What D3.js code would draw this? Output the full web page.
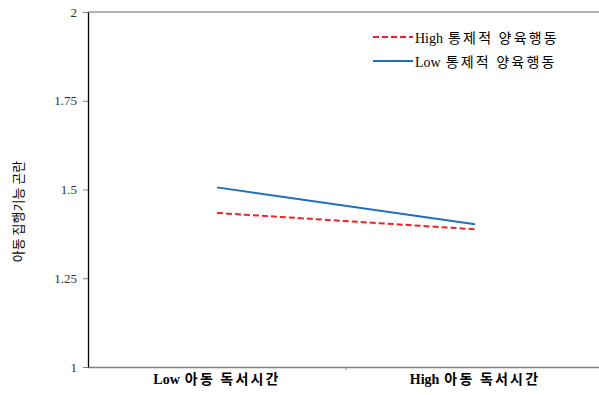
<!DOCTYPE html>
<html>
<head>
<meta charset="utf-8">
<script src="https://cdn.jsdelivr.net/npm/d3@7"></script>
<style>
  body { margin: 0; background: #fff; }
  svg { display: block; }
</style>
</head>
<body>
<svg id="chart" width="599" height="395"></svg>
<script>
// data
var categories = ["Low 아동 독서시간", "High 아동 독서시간"];
var seriesNames = ["High 통제적 양육행동", "Low 통제적 양육행동"];
var highValues = [1.434, 1.388];
var lowValues = [1.506, 1.402];
var yTicks = [1, 1.25, 1.5, 1.75, 2];

const svg = d3.select('#chart');
const margin = {top: 12, left: 88, bottom: 28};
const width = 599, height = 395;

const x = d3.scaleBand()
  .domain(categories)
  .range([margin.left, 604]);

const y = d3.scaleLinear()
  .domain([1, 2])
  .range([height - margin.bottom, margin.top]);

// latin word in serif, korean part a bit wider, like the original
function mixedLabel(sel, bold) {
  sel.each(function(d) {
    const t = d3.select(this);
    const s = String(d);
    const k = s.indexOf(" ");
    t.text(null);
    t.append("tspan")
      .attr("font-family", "Liberation Serif, serif")
      .attr("font-size", "14px")
      .text(s.slice(0, k));
    t.append("tspan")
      .attr("dx", 5)
      .attr("font-family", "Noto Sans CJK KR, sans-serif")
      .attr("font-size", "14px")
      .attr("letter-spacing", "2.2px")
      .text(s.slice(k + 1));
    if (bold) t.attr("font-weight", "bold");
  });
}

// top border line
svg.append("line")
  .attr("x1", margin.left).attr("x2", width)
  .attr("y1", y(2)).attr("y2", y(2))
  .attr("stroke", "#999").attr("stroke-width", 1.5);

// x axis
svg.append("g")
  .attr("transform", `translate(0,${y(1)})`)
  .call(d3.axisBottom(x).tickSize(0).tickSizeOuter(0))
  .call(g => g.select(".domain").attr("stroke", "#808080").attr("stroke-width", 1.5))
  .call(g => g.selectAll(".tick text")
    .attr("dy", "1.35em")
    .attr("fill", "#000")
    .call(mixedLabel, true));

// middle category separator tick
svg.append("line")
  .attr("x1", x(categories[1])).attr("x2", x(categories[1]))
  .attr("y1", y(1)).attr("y2", y(1) + 3)
  .attr("stroke", "#808080");

// y axis
svg.append("g")
  .attr("transform", `translate(${margin.left},0)`)
  .call(d3.axisLeft(y).tickValues(yTicks).tickFormat(d => d).tickSize(5).tickSizeOuter(0))
  .call(g => g.select(".domain").attr("stroke", "#000").attr("stroke-width", 1.3))
  .call(g => g.selectAll(".tick line").attr("stroke", "#808080"))
  .call(g => g.selectAll(".tick text")
    .attr("x", -11)
    .attr("fill", "#333")
    .attr("font-family", "Liberation Serif, serif")
    .attr("font-size", "13px"));

// y title
svg.append("text")
  .attr("transform", `translate(23,${(y(1) + y(2)) / 2 + 22}) rotate(-90)`)
  .attr("text-anchor", "middle")
  .attr("font-family", "Noto Sans CJK KR, sans-serif")
  .attr("font-size", "13px")
  .attr("fill", "#000")
  .text("아동 집행기능 곤란");

const cx = d => x(d) + x.bandwidth() / 2;
const line = d3.line().x(d => cx(d[0])).y(d => y(d[1]));

svg.append("path")
  .datum(categories.map((c, i) => [c, lowValues[i]]))
  .attr("d", line)
  .attr("fill", "none")
  .attr("stroke", "#1f6fbf")
  .attr("stroke-width", 2);

svg.append("path")
  .datum(categories.map((c, i) => [c, highValues[i]]))
  .attr("d", line)
  .attr("fill", "none")
  .attr("stroke", "#ee2222")
  .attr("stroke-width", 2)
  .attr("stroke-dasharray", "6,3");

// legend
const legend = svg.append("g").attr("transform", "translate(373,37)");
const styles = [
  {stroke: "#ee2222", dash: "6,3"},
  {stroke: "#1f6fbf", dash: null}
];
seriesNames.forEach((name, i) => {
  const g = legend.append("g").attr("transform", `translate(0,${i * 24})`);
  g.append("line")
    .attr("x1", 0).attr("x2", 40)
    .attr("stroke", styles[i].stroke)
    .attr("stroke-width", 2)
    .attr("stroke-dasharray", styles[i].dash);
  g.append("text")
    .datum(name)
    .attr("x", 42).attr("dy", "0.35em")
    .attr("fill", "#000")
    .call(mixedLabel, false);
});
</script>
</body>
</html>
